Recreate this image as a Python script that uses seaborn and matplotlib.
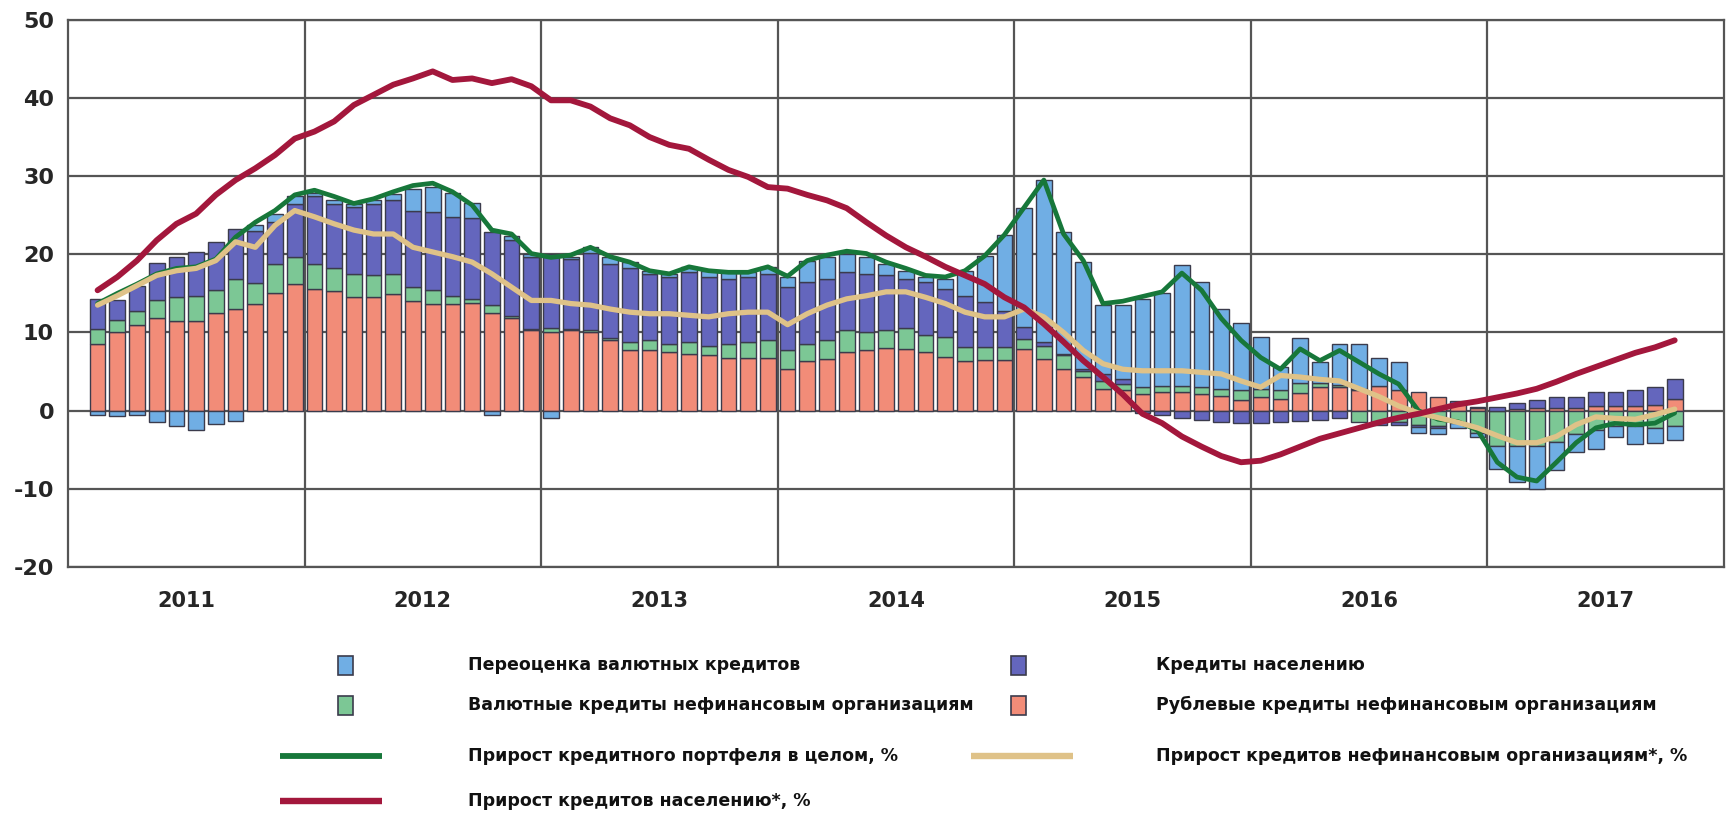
import numpy as np
import pandas as pd
import matplotlib
matplotlib.use("Agg")
import matplotlib.pyplot as plt
import seaborn as sns
from matplotlib import font_manager
from matplotlib.patches import Rectangle
from matplotlib.lines import Line2D

# Monthly contributions to loan portfolio growth, p.p. (Feb 2011 - Oct 2017)
rub_corp = [
    8.5, 10.0, 11.0, 11.9, 11.5, 11.5, 12.5, 13.0, 13.7, 15.0, 16.2,
    15.6, 15.3, 14.5, 14.5, 14.9, 14.0, 13.7, 13.7, 13.8, 12.5, 11.8, 10.3,
    10.0, 10.3, 10.0, 9.0, 7.8, 7.7, 7.5, 7.3, 7.1, 6.8, 6.8, 6.8,
    5.3, 6.4, 6.6, 7.5, 7.8, 8.0, 7.9, 7.5, 6.9, 6.4, 6.5, 6.5,
    7.9, 6.6, 5.3, 4.3, 2.8, 2.6, 2.1, 2.4, 2.4, 2.1, 1.9, 1.3,
    1.8, 1.5, 2.3, 3.0, 3.0, 2.6, 3.2, 2.6, 2.4, 1.8, 0.8, 0.3,
    0.0, 0.2, 0.3, 0.3, 0.3, 0.6, 0.6, 0.6, 0.7, 1.5,
]
fx_corp = [
    2.0, 1.6, 1.7, 2.2, 3.0, 3.2, 2.9, 3.8, 2.6, 3.7, 3.5,
    3.1, 2.9, 3.0, 2.8, 2.6, 1.8, 1.7, 1.0, 0.5, 1.0, 0.3, 0.2,
    0.6, 0.2, 0.3, 0.3, 1.0, 1.3, 1.0, 1.5, 1.2, 1.7, 2.0, 2.2,
    2.4, 2.1, 2.5, 2.8, 2.2, 2.3, 2.7, 2.2, 2.5, 1.8, 1.6, 1.6,
    1.3, 1.7, 1.8, 0.8, 1.0, 0.8, 0.9, 0.8, 0.8, 0.9, 0.9, 1.3,
    1.0, 1.2, 1.2, 0.5, 0.3, -1.5, -1.5, -1.5, -1.8, -2.0, -1.6, -2.8,
    -4.5, -4.5, -4.5, -4.0, -3.0, -2.5, -2.0, -2.0, -2.2, -2.0,
]
households = [
    3.8, 2.5, 3.3, 4.8, 5.2, 5.6, 6.2, 6.4, 6.7, 5.4, 6.8,
    8.7, 8.3, 8.6, 9.1, 9.4, 9.8, 10.0, 10.1, 10.3, 9.4, 9.7, 9.2,
    9.5, 8.9, 9.9, 9.5, 9.4, 8.5, 8.6, 8.9, 8.8, 8.4, 8.3, 8.5,
    8.1, 8.0, 7.8, 7.4, 7.5, 7.0, 6.3, 6.8, 6.2, 6.5, 5.8, 4.7,
    1.5, 0.5, 0.2, 0.2, 0.9, 0.7, -0.3, -0.5, -1.0, -1.2, -1.4, -1.6,
    -1.6, -1.5, -1.3, -1.2, -1.0, 0.2, -0.3, -0.3, -0.3, -0.2, 0.4, 0.2,
    0.5, 0.8, 1.0, 1.5, 1.5, 1.8, 1.8, 2.0, 2.3, 2.6,
]
revaluation = [
    -0.5, -0.7, -0.5, -1.5, -1.9, -2.5, -1.7, -1.3, 0.8, 1.1, 0.9,
    0.4, 0.4, 0.3, 0.5, 0.8, 2.8, 3.2, 3.0, 2.0, -0.6, 0.6, 0.4,
    -0.9, 0.3, 0.7, 0.9, 0.8, 0.4, 0.4, 0.7, 0.8, 0.8, 0.6, 0.9,
    1.3, 2.7, 2.8, 2.4, 2.2, 1.5, 1.0, 0.6, 1.3, 3.2, 5.9, 9.7,
    15.2, 20.7, 15.6, 13.7, 8.8, 9.4, 11.3, 11.8, 15.4, 13.5, 10.2, 8.6,
    6.6, 2.9, 5.8, 2.7, 5.2, 5.7, 3.6, 3.6, -0.7, -0.8, -0.6, -0.6,
    -3.0, -4.6, -5.5, -3.6, -2.3, -2.4, -1.4, -2.3, -1.9, -1.7,
]

# Annual growth rates, %
growth_total = [
    13.7, 15.0, 16.2, 17.5, 18.2, 18.4, 19.4, 22.2, 24.1, 25.6, 27.6,
    28.2, 27.4, 26.5, 27.1, 28.0, 28.8, 29.1, 28.0, 26.3, 23.1, 22.6, 20.1,
    19.6, 19.9, 20.9, 19.7, 19.0, 17.9, 17.5, 18.4, 17.9, 17.7, 17.7, 18.4,
    17.2, 19.2, 19.9, 20.4, 20.1, 19.0, 18.2, 17.3, 17.1, 17.9, 19.8, 22.5,
    26.0, 29.5, 22.6, 19.2, 13.7, 14.0, 14.6, 15.2, 17.6, 15.4, 11.8, 9.0,
    6.8, 5.3, 7.9, 6.4, 7.7, 6.2, 4.7, 3.4, 0.0, -1.1, -1.4, -2.5,
    -6.6, -8.5, -9.0, -6.6, -4.1, -2.2, -1.6, -1.8, -1.6, -0.3,
]
growth_corp = [
    13.5, 14.7, 16.0, 17.3, 17.9, 18.2, 19.2, 21.6, 20.9, 23.7, 25.6,
    24.8, 23.9, 23.1, 22.6, 22.6, 20.9, 20.3, 19.7, 19.0, 17.5, 15.8, 14.1,
    14.1, 13.7, 13.5, 13.0, 12.6, 12.4, 12.4, 12.2, 12.0, 12.4, 12.6, 12.6,
    11.0, 12.4, 13.5, 14.3, 14.7, 15.2, 15.2, 14.5, 13.7, 12.6, 12.0, 12.0,
    13.0, 12.0, 10.0, 7.7, 6.0, 5.3, 5.1, 5.1, 5.1, 4.9, 4.7, 3.8,
    3.0, 4.5, 4.3, 4.0, 3.8, 2.8, 1.8, 0.6, -0.3, -0.9, -1.5, -2.2,
    -3.2, -4.1, -4.1, -3.3, -1.8, -0.8, -1.0, -1.1, -0.5, 0.2,
]
growth_households = [
    15.4, 17.1, 19.2, 21.8, 23.9, 25.2, 27.6, 29.5, 31.0, 32.7, 34.8,
    35.7, 37.0, 39.1, 40.4, 41.7, 42.5, 43.4, 42.3, 42.5, 41.9, 42.4, 41.5,
    39.7, 39.7, 38.9, 37.4, 36.5, 35.0, 34.0, 33.5, 32.1, 30.8, 29.9, 28.6,
    28.4, 27.6, 26.9, 25.9, 24.1, 22.4, 20.9, 19.7, 18.4, 17.3, 16.2, 14.5,
    13.2, 11.1, 8.8, 6.4, 4.3, 2.1, -0.4, -1.6, -3.3, -4.6, -5.8, -6.6,
    -6.4, -5.6, -4.6, -3.6, -2.9, -2.2, -1.5, -0.9, -0.4, 0.2, 0.8, 1.2,
    1.7, 2.2, 2.8, 3.7, 4.7, 5.6, 6.5, 7.4, 8.1, 9.0,
]

years = [2011, 2012, 2013, 2014, 2015, 2016, 2017]
y_ticks = [-20, -10, 0, 10, 20, 30, 40, 50]

labels_bars = [
    "Переоценка валютных кредитов",
    "Кредиты населению",
    "Валютные кредиты нефинансовым организациям",
    "Рублевые кредиты нефинансовым организациям",
]
labels_lines = [
    "Прирост кредитного портфеля в целом, %",
    "Прирост кредитов нефинансовым организациям*, %",
    "Прирост кредитов населению*, %",
]

C_RUB = "#f28c78"
C_FX = "#7cc795"
C_HH = "#6466bd"
C_REV = "#70aee4"
C_TOTAL = "#17773a"
C_CORP = "#dfc288"
C_HHLINE = "#a3173c"
EDGE = "#3b3b4c"
GRID = "#555555"

sns.set_theme(style="white")
installed = {f.name for f in font_manager.fontManager.ttflist}
if "Liberation Sans Narrow" in installed:
    plt.rcParams["font.family"] = ["Liberation Sans Narrow", "DejaVu Sans"]
    fs_tick, fs_year, fs_leg = 19, 18, 15.5
else:
    plt.rcParams["font.family"] = ["DejaVu Sans"]
    fs_tick, fs_year, fs_leg = 16, 15, 12.5

W, H = 1727, 819
fig = plt.figure(figsize=(W / 100, H / 100), dpi=100)
fig.patch.set_facecolor("white")


def fx(px):
    return px / W


def fy(py):
    return 1 - py / H


ax = fig.add_axes([fx(68), fy(567), fx(1724) - fx(68), fy(19.8) - fy(567)])

n = len(rub_corp)
periods = pd.period_range("2011-02", periods=n, freq="M")
xpos = np.array([p.year + (p.month - 0.5) / 12 for p in periods])

# Stacked columns: positives stack upward from zero, negatives downward
pos_base = np.zeros(n)
neg_base = np.zeros(n)
for vals, col in [(rub_corp, C_RUB), (fx_corp, C_FX), (households, C_HH), (revaluation, C_REV)]:
    v = np.asarray(vals, dtype=float)
    bottom = np.where(v >= 0, pos_base, neg_base)
    sns.barplot(x=xpos, y=v, bottom=bottom, native_scale=True, color=col,
                saturation=1, width=0.8, edgecolor=EDGE, linewidth=1.0,
                errorbar=None, ax=ax, zorder=2)
    pos_base = pos_base + np.where(v >= 0, v, 0)
    neg_base = neg_base + np.where(v < 0, v, 0)

sns.lineplot(x=xpos, y=growth_total, color=C_TOTAL, lw=3.4, ax=ax, zorder=4)
sns.lineplot(x=xpos, y=growth_corp, color=C_CORP, lw=3.8, ax=ax, zorder=5)
sns.lineplot(x=xpos, y=growth_households, color=C_HHLINE, lw=4.2, ax=ax, zorder=6)

ax.set_xlim(2011, 2018)
ax.set_ylim(-20, 50)
ax.set_yticks(y_ticks)
ax.set_yticklabels([str(t) for t in y_ticks], fontsize=fs_tick, fontweight="bold")
ax.set_xticks([y + 0.5 for y in years])
ax.set_xticklabels([str(y) for y in years], fontsize=fs_year, fontweight="bold")
ax.set_xticks(list(range(2012, 2018)), minor=True)
ax.tick_params(axis="both", which="both", length=0)
ax.tick_params(axis="y", pad=10)
ax.tick_params(axis="x", pad=17)
ax.set_xlabel("")
ax.set_ylabel("")
ax.set_axisbelow(True)
ax.grid(False)
ax.yaxis.grid(True, color=GRID, lw=1.6)
ax.xaxis.grid(True, which="minor", color=GRID, lw=1.6)
for s in ax.spines.values():
    s.set_visible(True)
    s.set_color(GRID)
    s.set_linewidth(1.6)
ax.set_facecolor("white")

# Legend drawn in figure pixel space
col_mark = [345, 1018]
col_line = [331, 1022]
col_text = [468, 1156]
rows = [665, 705, 756, 801]
sq_w, sq_h = 15, 19
squares = [(0, 0, C_REV, labels_bars[0]), (1, 0, C_HH, labels_bars[1]),
           (0, 1, C_FX, labels_bars[2]), (1, 1, C_RUB, labels_bars[3])]
for c, r, col, lab in squares:
    cx, cy = col_mark[c], rows[r]
    fig.add_artist(Rectangle((fx(cx - sq_w / 2), fy(cy + sq_h / 2)), sq_w / W, sq_h / H,
                             transform=fig.transFigure, facecolor=col,
                             edgecolor=EDGE, lw=1.2))
    fig.text(fx(col_text[c]), fy(cy), lab, fontsize=fs_leg, fontweight="bold",
             va="center", ha="left", color="#111111")

line_items = [(0, 2, C_TOTAL, 4.2, labels_lines[0]), (1, 2, C_CORP, 4.6, labels_lines[1]),
              (0, 3, C_HHLINE, 4.6, labels_lines[2])]
for c, r, col, lw, lab in line_items:
    cx, cy = col_line[c], rows[r]
    fig.add_artist(Line2D([fx(cx - 51), fx(cx + 51)], [fy(cy), fy(cy)],
                          transform=fig.transFigure, color=col, lw=lw,
                          solid_capstyle="butt"))
    fig.text(fx(col_text[c]), fy(cy), lab, fontsize=fs_leg, fontweight="bold",
             va="center", ha="left", color="#111111")

fig.savefig("out.png", dpi=100, facecolor="white")
